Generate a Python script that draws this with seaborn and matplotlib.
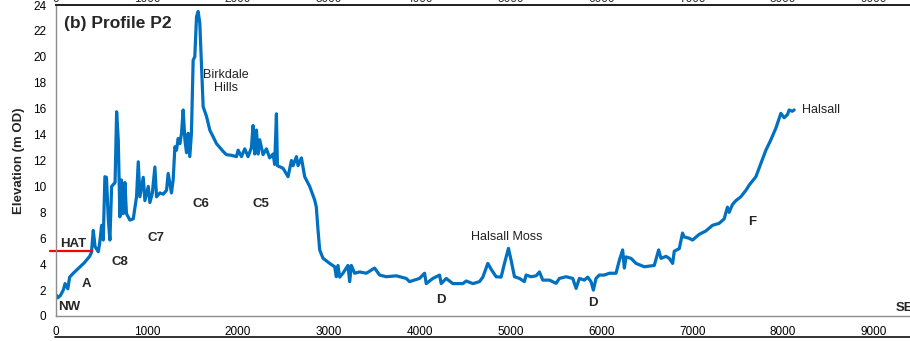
import matplotlib
matplotlib.use('Agg')
import matplotlib.pyplot as plt
import seaborn as sns
import pandas as pd
from matplotlib.lines import Line2D

# Profile P2 - distance along profile (m) and elevation (m OD)
distance = [5, 20, 50, 80, 100, 115, 130, 150, 190, 250, 310, 370, 390, 410, 430, 465,
            480, 502, 520, 538, 555, 575, 593, 612, 650, 667, 685, 703, 720, 740, 758,
            775, 813, 850, 886, 905, 923, 960, 978, 1015, 1033, 1060, 1088, 1106, 1143,
            1180, 1216, 1234, 1270, 1289, 1308, 1326, 1344, 1363, 1381, 1399, 1418, 1436,
            1454, 1472, 1490, 1509, 1527, 1546, 1564, 1582, 1601, 1619, 1656, 1692, 1766,
            1839, 1875, 1930, 1985, 2004, 2040, 2077, 2113, 2150, 2168, 2186, 2205, 2223,
            2241, 2278, 2315, 2351, 2388, 2406, 2425, 2436, 2498, 2553, 2590, 2608, 2645,
            2663, 2700, 2736, 2791, 2846, 2864, 2883, 2901, 2938, 3011, 3066, 3084, 3102,
            3121, 3157, 3212, 3231, 3249, 3286, 3341, 3414, 3505, 3560, 3634, 3744, 3853,
            3890, 3999, 4055, 4073, 4146, 4220, 4238, 4293, 4366, 4476, 4513, 4586, 4659,
            4696, 4751, 4788, 4842, 4897, 4934, 4978, 5007, 5044, 5099, 5153, 5172, 5227,
            5282, 5319, 5355, 5429, 5502, 5538, 5612, 5685, 5722, 5758, 5813, 5850, 5886,
            5912, 5941, 5978, 6033, 6088, 6161, 6198, 6234, 6253, 6271, 6326, 6381, 6472,
            6582, 6630, 6656, 6711, 6747, 6784, 6802, 6857, 6893, 6911, 6966, 7003, 7076,
            7149, 7223, 7296, 7351, 7387, 7406, 7442, 7479, 7534, 7590, 7626, 7700, 7810,
            7865, 7920, 7975, 8011, 8048, 8066, 8100, 8121]
elevation = [1.6, 1.4, 1.6, 2.0, 2.5, 2.3, 2.1, 3.0, 3.3, 3.7, 4.1, 4.6, 4.9, 6.6, 5.35, 4.96,
             5.6, 7.0, 5.86, 10.75, 10.7, 7.5, 5.86, 10.0, 10.3, 15.76, 13.6, 7.66, 10.5, 7.9, 10.3,
             7.9, 7.4, 7.5, 9.2, 11.9, 9.2, 10.7, 8.9, 10.0, 8.75, 9.5, 11.5, 9.2, 9.5,
             9.4, 9.7, 11.0, 9.5, 10.5, 13.06, 12.8, 13.7, 13.3, 14.1, 15.9, 13.6, 12.6,
             14.1, 12.3, 14.1, 19.75, 20.0, 23.1, 23.5, 22.6, 19.2, 16.15, 15.4, 14.35, 13.3,
             12.7, 12.45, 12.4, 12.3, 12.8, 12.3, 12.9, 12.3, 13.0, 14.7, 12.5, 14.35, 12.5,
             13.6, 12.45, 12.9, 12.2, 12.5, 11.7, 15.6, 11.6, 11.4, 10.75, 12.0, 11.6, 12.3,
             11.6, 12.2, 10.75, 10.0, 8.95, 8.4, 6.6, 5.1, 4.45, 4.06, 3.8, 3.03, 3.9,
             3.0, 3.3, 3.9, 2.65, 3.9, 3.3, 3.4, 3.3, 3.7, 3.16, 3.03, 3.1, 2.9,
             2.65, 2.9, 3.3, 2.5, 2.9, 3.16, 2.5, 2.9, 2.5, 2.5, 2.7, 2.5, 2.65,
             3.0, 4.06, 3.6, 3.03, 3.0, 4.06, 5.22, 4.3, 3.03, 2.9, 2.65, 3.16, 3.03,
             3.1, 3.4, 2.77, 2.77, 2.52, 2.9, 3.03, 2.9, 2.13, 2.9, 2.77, 3.0, 2.65,
             2.0, 2.9, 3.16, 3.16, 3.3, 3.3, 4.3, 5.1, 3.7, 4.56, 4.45, 4.06, 3.8,
             3.9, 5.1, 4.45, 4.6, 4.45, 4.06, 5.0, 5.2, 6.4, 6.1, 6.0, 5.86, 6.3,
             6.56, 7.0, 7.15, 7.5, 8.4, 8.0, 8.6, 8.9, 9.2, 9.7, 10.1, 10.75, 12.8,
             13.6, 14.5, 15.64, 15.3, 15.55, 15.9, 15.8, 15.9]

hat_level = 5.0
hat_extent = [-66, 392]

# zone labels (bold) and place names (regular)
zone_labels = ["NW", "A", "C8", "C7", "C6", "C5", "D", "D", "F", "SE"]
zone_x = [22, 340, 700, 1095, 1590, 2260, 4230, 5905, 7660, 9240]
zone_y = [0.7, 2.45, 4.2, 6.0, 8.65, 8.65, 1.2, 1.0, 7.25, 0.6]
zone_ha = ["left", "center", "center", "center", "center", "center", "center", "center", "center", "left"]

place_labels = ["Birkdale\nHills", "Halsall Moss", "Halsall"]
place_x = [1865, 4956, 8209]
place_y = [18.1, 6.1, 15.9]
place_ha = ["center", "center", "left"]

sns.set_style("white")
plt.rcParams['font.family'] = ['Liberation Sans', 'DejaVu Sans']

fig = plt.figure(figsize=(9.10, 3.41), dpi=100)
ax = fig.add_axes([56 / 910, 1 - 316 / 341, 863.5 / 910, 311 / 341])

df = pd.DataFrame({"distance": distance, "elevation": elevation})
sns.lineplot(data=df, x="distance", y="elevation", sort=False, estimator=None,
             color="#0070C0", linewidth=2.3, ax=ax, solid_joinstyle="round", solid_capstyle="round")

# Highest Astronomical Tide
ax.plot(hat_extent, [hat_level, hat_level], color="#FF0000", linewidth=1.6, clip_on=False)

ax.set_xlim(0, 9500)
ax.set_ylim(0, 24)
ax.set_xticks(range(0, 10000, 1000))
ax.set_yticks(range(0, 25, 2))
ax.set_xlabel("")
ax.set_ylabel("Elevation (m OD)", fontsize=9.5, fontweight="bold", labelpad=6)

for side in ["left", "bottom"]:
    ax.spines[side].set_color("#8c8c8c")
    ax.spines[side].set_linewidth(1.0)
ax.spines["right"].set_visible(False)
ax.spines["top"].set_color("#222222")
ax.spines["top"].set_linewidth(1.3)

ax.tick_params(axis="both", labelsize=8.5, colors="#000000", direction="out",
               length=4, width=1.0, color="#8c8c8c", pad=3)

# distance labels of the panel above, cut at the figure edge
top = ax.secondary_xaxis("top")
top.set_xticks(range(0, 10000, 1000))
top.tick_params(length=0, pad=0, labelsize=8.5)
top.spines["top"].set_color("#222222")
top.spines["top"].set_linewidth(1.3)

ax.text(88, 22.2, "(b) Profile P2", fontsize=12.5, fontweight="bold", ha="left", va="baseline")

for lab, x, y, ha in zip(zone_labels, zone_x, zone_y, zone_ha):
    ax.text(x, y, lab, fontsize=9.5, fontweight="bold", ha=ha, va="center", clip_on=False)
ax.text(44, 5.55, "HAT", fontsize=9.5, fontweight="bold", ha="left", va="center")

for lab, x, y, ha in zip(place_labels, place_x, place_y, place_ha):
    ax.text(x, y, lab, fontsize=9, ha=ha, va="center", color="#222222", linespacing=1.15)

# frame line of the panel below
fig.add_artist(Line2D([55 / 910, 1.0], [1 - 337 / 341, 1 - 337 / 341],
                      color="#222222", linewidth=1.3))

plt.savefig("out.png", dpi=100)
plt.close()
